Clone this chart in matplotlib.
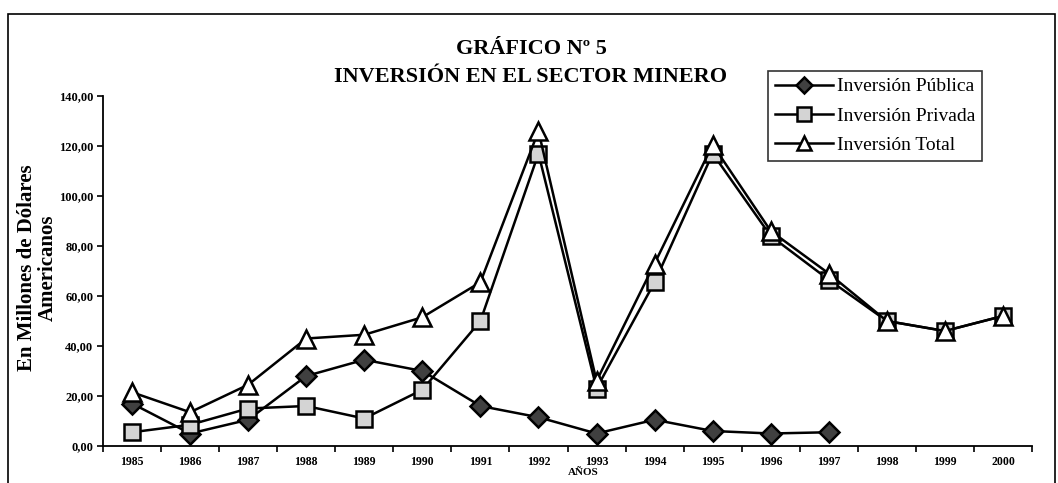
import numpy as np
import matplotlib
matplotlib.use("Agg")
import matplotlib.pyplot as plt
from matplotlib.patches import Rectangle

plt.rcParams["font.family"] = ["Liberation Serif", "DejaVu Serif"]

years = ["1985", "1986", "1987", "1988", "1989", "1990", "1991", "1992",
         "1993", "1994", "1995", "1996", "1997", "1998", "1999", "2000"]
publica = [17, 5, 10.5, 28, 34.5, 30, 16, 11.5, 5, 10.5, 6, 5, 5.5,
           np.nan, np.nan, np.nan]
privada = [5.5, 8.5, 15, 16, 11, 22.5, 50, 117, 23, 65.5, 117, 84, 66.5,
           50, 46, 52]
total = [21.5, 13.5, 24.5, 43, 44.5, 51.5, 65.5, 126, 26, 73, 120.5, 86, 69,
         50, 46, 52]
yticks = [0, 20, 40, 60, 80, 100, 120, 140]

fig = plt.figure(figsize=(10.58, 4.83), dpi=100)
ax = fig.add_axes([103 / 1058, 37 / 483, 929 / 1058, 350 / 483])

x = np.arange(len(years))
ax.plot(x, publica, color="black", lw=1.8, marker="D", ms=10,
        mfc="#404040", mec="black", mew=1.8, label="Inversión Pública", zorder=3)
ax.plot(x, privada, color="black", lw=1.8, marker="s", ms=12,
        mfc="#d4d4d4", mec="black", mew=1.8, label="Inversión Privada", zorder=4)
ax.plot(x, total, color="black", lw=1.8, marker="^", ms=12.5,
        mfc="white", mec="black", mew=1.8, label="Inversión Total", zorder=5)

ax.set_xlim(-0.5, len(years) - 0.5)
ax.set_ylim(0, 140)
ax.set_xticks(x)
ax.set_xticklabels(years, fontsize=8.5, fontweight="bold")
ax.set_xticks(np.arange(-0.5, len(years), 1), minor=True)
ax.tick_params(axis="x", which="major", length=0, pad=7)
ax.tick_params(axis="x", which="minor", length=4, width=1.2, direction="out")
ax.set_yticks(yticks)
ax.set_yticklabels([f"{v:.2f}".replace(".", ",") for v in yticks],
                   fontsize=9, fontweight="bold")
ax.tick_params(axis="y", length=4, width=1.2, direction="out", pad=3)
for s in ["top", "right"]:
    ax.spines[s].set_visible(False)
for s in ["left", "bottom"]:
    ax.spines[s].set_linewidth(1.3)

fig.text(531 / 1058, 0.899, "GRÁFICO Nº 5", ha="center", va="center",
         fontsize=16, fontweight="bold")
fig.text(531 / 1058, 0.841, "INVERSIÓN EN EL SECTOR MINERO", ha="center",
         va="center", fontsize=16, fontweight="bold")
fig.text(0.035, 0.445, "En Millones de Dólares\nAmericanos", ha="center",
         va="center", rotation=90, fontsize=15, fontweight="bold",
         linespacing=1.05)
fig.text(0.551, 0.021, "AÑOS", ha="center", va="center", fontsize=8,
         fontweight="bold")

leg = ax.legend(loc="upper left", bbox_to_anchor=(768 / 1058, 412 / 483),
                bbox_transform=fig.transFigure, fontsize=14, frameon=True,
                fancybox=False, edgecolor="black", handlelength=3.0,
                handletextpad=0.2, borderpad=0.35, labelspacing=0.6,
                borderaxespad=0, markerscale=0.85)
leg.get_frame().set_linewidth(1.2)

fig.add_artist(Rectangle((8 / 1058, -0.02), 1047 / 1058, (469 / 483) + 0.02,
                         transform=fig.transFigure, fill=False,
                         edgecolor="black", lw=1.2))

fig.savefig("out.png", dpi=100)
